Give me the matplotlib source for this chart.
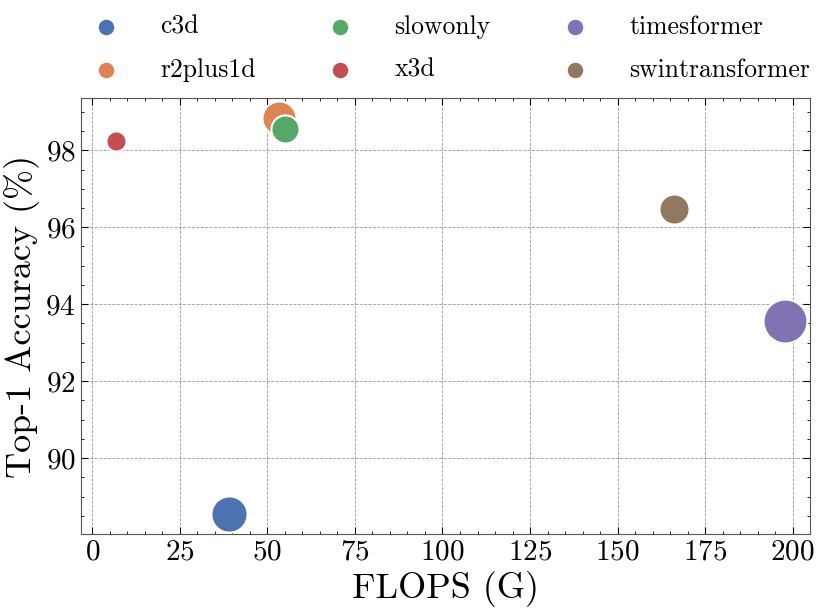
import matplotlib
matplotlib.use("Agg")
import matplotlib.pyplot as plt
import seaborn as sns

# values
models = ["c3d", "r2plus1d", "slowonly", "x3d", "timesformer", "swintransformer"]
flops = [38.9, 53.4, 54.9, 6.6, 197.7, 166.0]
top1 = [88.55, 98.83, 98.55, 98.23, 93.56, 96.48]
marker_size = [680, 600, 410, 210, 1000, 470]

palette = sns.color_palette("deep")
colors = [palette[0], palette[1], palette[2], palette[3], palette[4], palette[5]]

plt.rcParams["font.family"] = ["cmr10", "DejaVu Serif"]
plt.rcParams["mathtext.fontset"] = "cm"
plt.rcParams["axes.formatter.use_mathtext"] = True
plt.rcParams["axes.unicode_minus"] = False

fig, ax = plt.subplots(figsize=(8.3, 6.15), dpi=100)

for m, x, y, s, c in zip(models, flops, top1, marker_size, colors):
    ax.scatter(x, y, s=s, color=c, edgecolor="white", linewidth=1.5, label=m, zorder=3)

ax.set_xlim(-3.4, 205)
ax.set_ylim(88.03, 99.35)
ax.set_xticks([0, 25, 50, 75, 100, 125, 150, 175, 200])
ax.set_yticks([90, 92, 94, 96, 98])
ax.minorticks_on()
ax.tick_params(which="both", direction="in", top=True, right=True, labelsize=21)
ax.tick_params(which="major", length=5, width=0.8)
ax.tick_params(which="minor", length=2.5, width=0.6)
ax.grid(True, which="major", linestyle="--", color="grey", linewidth=0.6, alpha=0.8)
for sp in ax.spines.values():
    sp.set_color("#555555")

ax.set_xlabel("FLOPS (G)", fontsize=26)
ax.set_ylabel("Top-1 Accuracy (%)", fontsize=26)

leg = ax.legend(loc="lower center", bbox_to_anchor=(0.5, 0.985), ncol=3, frameon=False,
                fontsize=18.5, markerscale=1, columnspacing=2.3, handletextpad=1.1,
                labelspacing=0.75)
for h in leg.legend_handles:
    h.set_sizes([160])

fig.subplots_adjust(left=0.097, right=0.976, top=0.84, bottom=0.132)
fig.savefig("out.png", dpi=100)
